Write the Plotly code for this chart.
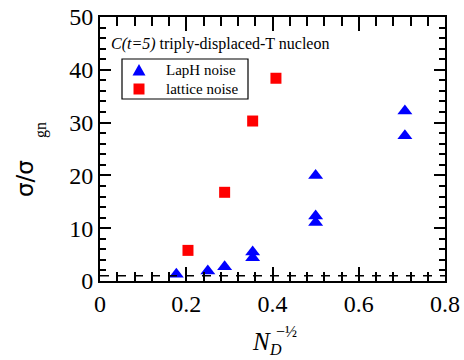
import plotly.graph_objects as go

# N_D^{-1/2} for each dilution scheme and the noise ratio sigma/sigma_gn
laph_x = [0.177, 0.25, 0.289, 0.354, 0.354, 0.5, 0.5, 0.5, 0.707, 0.707]
laph_y = [1.3, 1.9, 2.7, 5.5, 4.4, 20.0, 12.3, 11.1, 32.2, 27.5]

lattice_x = [0.204, 0.289, 0.354, 0.408]
lattice_y = [5.8, 16.8, 30.3, 38.4]

gauge_noise_level = 1.0

x_ticks = [0, 0.2, 0.4, 0.6, 0.8]
y_ticks = [0, 10, 20, 30, 40, 50]

series_names = ["LapH noise", "lattice noise"]
series_colors = ["#0000ff", "#ff0000"]

SERIF = "Liberation Serif"
SANS = "DejaVu Sans"

W, H = 464, 360
M_L, M_R, M_T, M_B = 100, 19, 17, 79
PW, PH = W - M_L - M_R, H - M_T - M_B


def px(x):
    """pixel column -> paper x"""
    return (x - M_L) / PW


def py(y):
    """pixel row -> paper y"""
    return (H - M_B - y) / PH


fig = go.Figure()

fig.add_trace(go.Scatter(
    x=laph_x, y=laph_y, mode="markers", name=series_names[0],
    marker=dict(symbol="triangle-up", size=13, color=series_colors[0]),
    showlegend=False,
))
fig.add_trace(go.Scatter(
    x=lattice_x, y=lattice_y, mode="markers", name=series_names[1],
    marker=dict(symbol="square", size=11, color=series_colors[1]),
    showlegend=False,
))

# reference level sigma = sigma_gn
fig.add_trace(go.Scatter(
    x=[0, 0.8], y=[gauge_noise_level, gauge_noise_level], mode="lines",
    line=dict(color="black", width=1.5, dash="9px,8px"),
    showlegend=False, hoverinfo="skip",
))

axis_common = dict(
    showgrid=False, zeroline=False, showline=True, linecolor="black",
    linewidth=2, mirror="allticks", ticks="inside", tickcolor="black",
    tickwidth=1.5, automargin=False,
    tickfont=dict(family=SERIF, size=24, color="black"),
)

fig.update_xaxes(
    range=[0, 0.8], tickvals=x_ticks, ticktext=[f"{v:g}" for v in x_ticks],
    ticklen=14,
    minor=dict(dtick=0.04, tick0=0, ticks="inside", ticklen=9,
               tickcolor="black", tickwidth=1.5),
    **axis_common,
)
fig.update_yaxes(
    range=[0, 50], tickvals=y_ticks, ticktext=[str(v) for v in y_ticks],
    ticklen=11,
    minor=dict(dtick=2, tick0=0, ticks="inside", ticklen=6,
               tickcolor="black", tickwidth=1.5),
    **axis_common,
)

fig.add_annotation(
    xref="paper", yref="paper", x=px(109), y=py(44), xanchor="left", yanchor="middle",
    text="<i>C(t=5)</i> triply-displaced-T nucleon", showarrow=False,
    font=dict(family=SERIF, size=16, color="black"),
)

# legend box with swatches
fig.add_shape(type="rect", xref="paper", yref="paper",
              x0=px(122), x1=px(248), y0=py(99), y1=py(59),
              line=dict(color="black", width=1.2), fillcolor="white")
cx, cy1, cy2 = 139, 70, 89
fig.add_shape(type="path", xref="paper", yref="paper",
              path=(f"M {px(cx - 6.5)} {py(cy1 + 5.5)} L {px(cx + 6.5)} {py(cy1 + 5.5)} "
                    f"L {px(cx)} {py(cy1 - 6)} Z"),
              line=dict(width=0), fillcolor=series_colors[0])
fig.add_shape(type="rect", xref="paper", yref="paper",
              x0=px(cx - 5.5), x1=px(cx + 5.5), y0=py(cy2 + 5.5), y1=py(cy2 - 5.5),
              line=dict(width=0), fillcolor=series_colors[1])
for name, cy in zip(series_names, [cy1, cy2]):
    fig.add_annotation(
        xref="paper", yref="paper", x=px(164), y=py(cy), xanchor="left",
        yanchor="middle", text=name, showarrow=False,
        font=dict(family=SERIF, size=15, color="black"),
    )

# y-axis title: sigma / sigma_gn
fig.add_annotation(
    xref="paper", yref="paper", x=px(25), y=py(179), xanchor="center", yanchor="middle",
    text="σ/σ", textangle=-90, showarrow=False,
    font=dict(family=SANS, size=23, color="black"),
)
fig.add_annotation(
    xref="paper", yref="paper", x=px(41), y=py(130), xanchor="center", yanchor="middle",
    text="gn", textangle=-90, showarrow=False,
    font=dict(family=SERIF, size=16, color="black"),
)

# x-axis title N_D^{-1/2}
fig.add_annotation(
    xref="paper", yref="paper", x=px(261), y=py(341), xanchor="center", yanchor="middle",
    text="<i>N</i>", showarrow=False,
    font=dict(family=SERIF, size=25, color="black"),
)
fig.add_annotation(
    xref="paper", yref="paper", x=px(275), y=py(349), xanchor="center", yanchor="middle",
    text="<i>D</i>", showarrow=False,
    font=dict(family=SERIF, size=16, color="black"),
)
fig.add_annotation(
    xref="paper", yref="paper", x=px(286), y=py(331), xanchor="center", yanchor="middle",
    text="−½", showarrow=False,
    font=dict(family=SERIF, size=16, color="black"),
)

fig.update_layout(
    width=W, height=H,
    margin=dict(l=M_L, r=M_R, t=M_T, b=M_B),
    paper_bgcolor="white", plot_bgcolor="white",
    font=dict(family=SERIF, color="black"),
    showlegend=False,
)

fig.write_html("out.html")
